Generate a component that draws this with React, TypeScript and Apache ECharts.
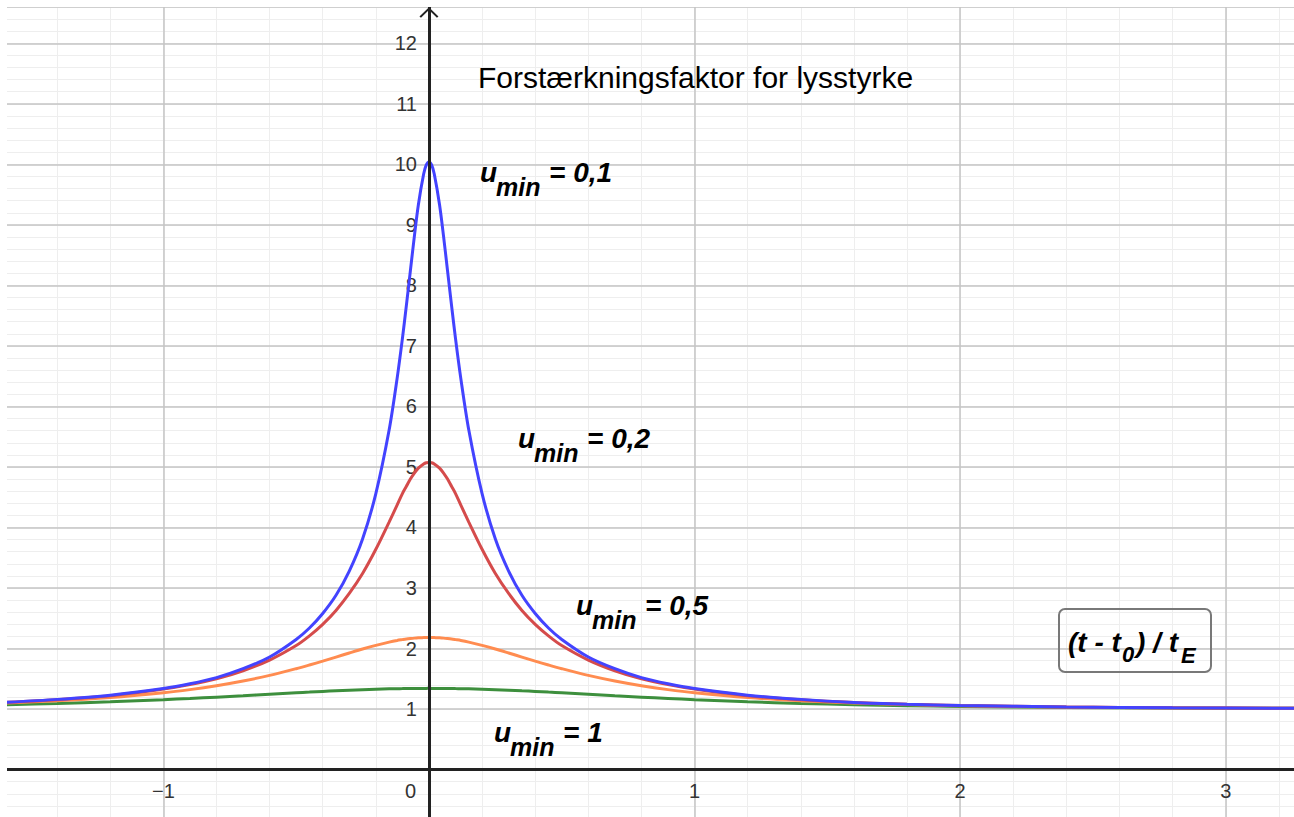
import React, { useEffect, useRef } from 'react';
import * as echarts from 'echarts';

// (t - t0) / tE sample positions
const tau = [-1.6, -1.4, -1.2, -1.0, -0.9, -0.8, -0.7, -0.6, -0.5, -0.45, -0.4, -0.35, -0.3, -0.25, -0.2, -0.15, -0.12, -0.1,
  -0.085, -0.07, -0.055, -0.04, -0.02, -0.01, 0,
  0.01, 0.02, 0.04, 0.055, 0.07, 0.085, 0.1, 0.12, 0.15, 0.2, 0.25, 0.3, 0.35, 0.4, 0.45, 0.5, 0.6, 0.7, 0.8, 0.9, 1.0,
  1.2, 1.4, 1.6, 1.8, 2.0, 2.4, 2.8, 3.2, 3.4];

// amplification
const umin01 = [1.11, 1.16, 1.23, 1.34, 1.418, 1.52, 1.667, 1.86, 2.15, 2.34, 2.58, 2.88, 3.28, 3.81, 4.56, 5.61, 6.46, 7.12,
  7.67, 8.24, 8.81, 9.33, 9.84, 9.99, 10.04,
  9.99, 9.84, 9.33, 8.81, 8.24, 7.67, 7.12, 6.46, 5.61, 4.56, 3.81, 3.28, 2.88, 2.58, 2.34, 2.15, 1.86, 1.667, 1.52, 1.418, 1.34,
  1.23, 1.16, 1.11, 1.08, 1.06, 1.035, 1.021, 1.014, 1.011];
const umin02 = [1.11, 1.155, 1.22, 1.33, 1.404, 1.50, 1.633, 1.81, 2.05, 2.21, 2.40, 2.63, 2.91, 3.24, 3.64, 4.09, 4.37, 4.56,
  4.68, 4.80, 4.90, 4.98, 5.05, 5.07, 5.075,
  5.07, 5.05, 4.98, 4.90, 4.80, 4.68, 4.56, 4.37, 4.09, 3.64, 3.24, 2.91, 2.63, 2.40, 2.21, 2.05, 1.81, 1.633, 1.50, 1.404, 1.33,
  1.22, 1.155, 1.11, 1.08, 1.06, 1.035, 1.021, 1.013, 1.011];
const umin05 = [1.10, 1.136, 1.19, 1.269, 1.321, 1.385, 1.463, 1.556, 1.667, 1.728, 1.792, 1.859, 1.926, 1.992, 2.053, 2.106, 2.133, 2.147,
  2.157, 2.165, 2.172, 2.177, 2.181, 2.183, 2.183,
  2.183, 2.181, 2.177, 2.172, 2.165, 2.157, 2.147, 2.133, 2.106, 2.053, 1.992, 1.926, 1.859, 1.792, 1.728, 1.667, 1.556, 1.463, 1.385, 1.321, 1.269,
  1.19, 1.136, 1.10, 1.074, 1.056, 1.033, 1.020, 1.013, 1.011];
const umin1 = [1.072, 1.093, 1.120, 1.155, 1.175, 1.197, 1.220, 1.245, 1.269, 1.280, 1.292, 1.302, 1.312, 1.321, 1.328, 1.334, 1.337, 1.338,
  1.339, 1.340, 1.3405, 1.341, 1.3415, 1.3416, 1.342,
  1.3416, 1.3415, 1.341, 1.3405, 1.340, 1.339, 1.338, 1.337, 1.334, 1.328, 1.321, 1.312, 1.302, 1.292, 1.280, 1.269, 1.245, 1.220, 1.197, 1.175, 1.155,
  1.120, 1.093, 1.072, 1.056, 1.044, 1.027, 1.018, 1.012, 1.010];

const seriesNames = ['u_min = 1', 'u_min = 0,5', 'u_min = 0,2', 'u_min = 0,1'];
const seriesValues = [umin1, umin05, umin02, umin01];
const seriesColors = ['#3d8f3d', '#ff8c50', '#d54b4b', '#4343ff'];

const title = 'Forstærkningsfaktor for lysstyrke';
const uminLabels = ['0,1', '0,2', '0,5', '1'];

const FONT = "'Liberation Sans', Arial, Helvetica, sans-serif";
const X_MIN = -1.6, X_MAX = 3.4, Y_MIN = -0.8, Y_MAX = 12.6;
const CHART_W = 1328, CHART_H = 811;

// page -> chart coordinates (chart div sits at page (4,7))
const gx = (x: number) => x - 4;
const gy = (y: number) => y - 7;

function txt(x: number, baseline: number, text: string, size: number, italic = true, bold = true) {
  return {
    type: 'text',
    x: gx(x),
    y: gy(baseline - 0.35 * size),
    z: 20,
    style: {
      text,
      fontSize: size,
      fontFamily: FONT,
      fontStyle: italic ? 'italic' : 'normal',
      fontWeight: bold ? 'bold' : 'normal',
      fill: '#000',
      align: 'left',
      verticalAlign: 'middle',
    },
  };
}

function uminLabel(ux: number, base: number, value: string) {
  return [
    txt(ux - 1, base, 'u', 28),
    txt(ux + 15, base + 14, 'min', 25),
    txt(ux + 68, base, '= ' + value, 28),
  ];
}

const labelPos: [number, number][] = [[481, 182], [519, 448], [577, 615], [495, 742]];

function buildOption() {
  const isInt = (v: number) => Math.abs(v - Math.round(v)) < 1e-6;
  const xr = { type: 'value', min: X_MIN, max: X_MAX };
  const yr = { type: 'value', min: Y_MIN, max: Y_MAX };
  const labelStyle = { color: '#333', fontSize: 20, fontFamily: FONT };
  // distance of the zero lines from the grid's left / bottom edges
  const zeroFromLeft = (0 - X_MIN) / (X_MAX - X_MIN) * CHART_W;
  const zeroFromBottom = (0 - Y_MIN) / (Y_MAX - Y_MIN) * CHART_H;

  const graphics: any[] = [];
  graphics.push(txt(478, 87.5, title, 30, false, false));
  uminLabels.forEach((v, i) => graphics.push(...uminLabel(labelPos[i][0], labelPos[i][1], v)));
  graphics.push({
    type: 'rect', x: gx(1059), y: gy(609), z: 20,
    shape: { x: 0, y: 0, width: 152, height: 63, r: 6 },
    style: { fill: 'none', stroke: '#787878', lineWidth: 2 },
  });
  graphics.push(txt(1068, 652, '(t - t', 28));
  graphics.push(txt(1122, 662, '0', 22));
  graphics.push(txt(1136, 652, ') / t', 28));
  graphics.push(txt(1181, 663, 'E', 22));

  return {
    animation: false,
    backgroundColor: '#fff',
    grid: { left: 0, right: 0, top: 0, bottom: 0, containLabel: false, outerBoundsMode: 'none' },
    xAxis: [
      {
        ...xr, interval: 0.2, z: 0,
        axisLine: { show: false }, axisTick: { show: false }, axisLabel: { show: false },
        splitLine: { show: true, lineStyle: { color: '#eeeeee', width: 1 } },
      },
      {
        ...xr, minInterval: 1, maxInterval: 1, splitNumber: 5, position: 'bottom', z: 1,
        offset: -zeroFromBottom,
        axisLine: { show: false, onZero: false },
        axisTick: { show: false },
        axisLabel: {
          show: true, margin: 11, ...labelStyle,
          formatter: (v: number) => {
            if (!isInt(v)) return '';
            const r = Math.round(v);
            if (r === 0) return '{z|0}';
            return r < 0 ? '\u2212' + Math.abs(r) : String(r);
          },
          rich: { z: { padding: [0, 37, 0, 0], ...labelStyle } },
        },
        splitLine: { show: true, lineStyle: { color: '#c4c4c4', width: 1.5 } },
      },
      {
        ...xr, interval: 0.2, position: 'bottom', z: 5,
        axisLine: { show: true, onZero: true, onZeroAxisIndex: 0, lineStyle: { color: '#222', width: 3 } },
        axisTick: { show: false }, axisLabel: { show: false }, splitLine: { show: false },
      },
    ],
    yAxis: [
      {
        ...yr, interval: 0.2, z: 0,
        axisLine: { show: false }, axisTick: { show: false }, axisLabel: { show: false },
        splitLine: { show: true, lineStyle: { color: '#eeeeee', width: 1 } },
      },
      {
        ...yr, minInterval: 1, maxInterval: 1, splitNumber: 13, position: 'left', z: 1,
        offset: -zeroFromLeft,
        axisLine: { show: false, onZero: false },
        axisTick: { show: false },
        axisLabel: {
          show: true, margin: 12, ...labelStyle,
          formatter: (v: number) => {
            if (!isInt(v)) return '';
            const r = Math.round(v);
            return r <= 0 ? '' : String(r);
          },
        },
        splitLine: { show: true, lineStyle: { color: '#c4c4c4', width: 1.5 } },
      },
      {
        ...yr, interval: 0.2, position: 'left', z: 5,
        axisLine: {
          show: true, onZero: true, onZeroAxisIndex: 0,
          lineStyle: { color: '#222', width: 3 },
          symbol: ['none', 'path://M0,9.6 L10,0 L20,9.6 L18.4,11 L10,2.9 L1.6,11 Z'],
          symbolSize: [19, 11],
          symbolOffset: [0, -5.5],
        },
        axisTick: { show: false }, axisLabel: { show: false }, splitLine: { show: false },
      },
    ],
    series: seriesValues.map((vals, i) => ({
      name: seriesNames[i],
      type: 'line',
      xAxisIndex: 0,
      yAxisIndex: 0,
      data: tau.map((t, k) => [t, vals[k]]),
      showSymbol: false,
      symbol: 'none',
      smooth: 0.3,
      clip: true,
      z: 2,
      lineStyle: { color: seriesColors[i], width: 3 },
    })),
    graphic: graphics,
  };
}

export default function App() {
  const ref = useRef<HTMLDivElement>(null);
  useEffect(() => {
    if (!ref.current) return;
    const chart = echarts.init(ref.current, null, { renderer: 'svg' });
    chart.setOption(buildOption() as any);
    return () => chart.dispose();
  }, []);
  return (
    <div style={{ position: 'fixed', left: 0, top: 0, width: 1294, height: 817, background: '#fff', overflow: 'hidden' }}>
      <div style={{ position: 'absolute', left: 7, top: 0, width: 1287, height: 817, overflow: 'hidden' }}>
        <div ref={ref} style={{ position: 'absolute', left: -3, top: 7, width: CHART_W, height: CHART_H }} />
      </div>
    </div>
  );
}
